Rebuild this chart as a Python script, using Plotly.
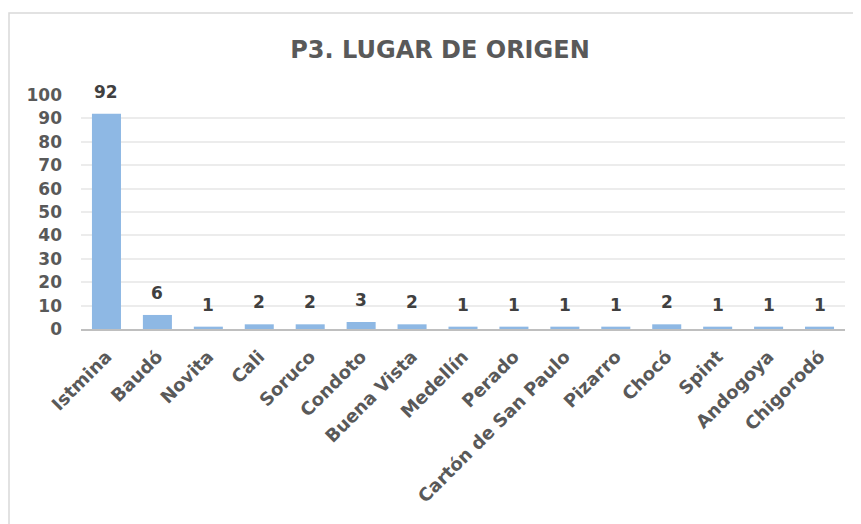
import plotly.graph_objects as go

lugares = ["Istmina", "Baudó", "Novita", "Cali", "Soruco", "Condoto", "Buena Vista",
           "Medellín", "Perado", "Cartón de San Paulo", "Pizarro", "Chocó", "Spint",
           "Andogoya", "Chigorodó"]
cantidad = [92, 6, 1, 2, 2, 3, 2, 1, 1, 1, 1, 2, 1, 1, 1]
y_ticks = [0, 10, 20, 30, 40, 50, 60, 70, 80, 90, 100]

W, H = 861, 524
OFF = 8  # page body margin
ml, mt = 81 - OFF, 95 - OFF
pw, ph = 845 - 81, 329 - 95
mr = W - ml - pw
mb = H - mt - ph

font_fam = "DejaVu Sans"

fig = go.Figure()
fig.add_trace(go.Bar(x=lugares, y=cantidad, marker=dict(color="#8eb8e4", line=dict(width=0)),
                     hoverinfo="x+y"))

# data labels above bars
for lug, val in zip(lugares, cantidad):
    fig.add_annotation(x=lug, y=val, text=str(val), showarrow=False,
                       yanchor="middle", yshift=22,
                       font=dict(family=font_fam, size=17, color="#404040", weight="bold"))

# chart frame (clipped at right/bottom like the reference)
fig.add_shape(type="rect", xref="paper", yref="paper",
              x0=(1 - ml) / pw, x1=(W + 20 - ml) / pw,
              y0=-(H + 20 - 329) / ph, y1=(329 - 13) / ph,
              line=dict(color="#d9d9d9", width=1.5), fillcolor="rgba(0,0,0,0)", layer="below")

fig.update_layout(
    width=W, height=H,
    margin=dict(l=ml, r=mr, t=mt, b=mb, pad=0),
    paper_bgcolor="white", plot_bgcolor="white",
    bargap=0.43,
    showlegend=False,
    title=dict(text="P3. LUGAR DE ORIGEN", x=(440 - OFF) / W, xref="container", xanchor="center",
               y=1 - (50 - OFF) / H, yref="container", yanchor="middle",
               font=dict(family=font_fam, size=24, color="#595959", weight="bold")),
    xaxis=dict(tickangle=-45, showgrid=False, showline=True, linecolor="#bfbfbf", linewidth=2,
               ticks="", ticklabelstandoff=8,
               tickfont=dict(family=font_fam, size=18, color="#595959", weight="bold")),
    yaxis=dict(range=[0, 100], tickvals=y_ticks, showgrid=True, gridcolor="#ececec", gridwidth=1.5,
               zeroline=False, showline=False, ticks="", ticklabelstandoff=18,
               tickfont=dict(family=font_fam, size=17, color="#595959", weight="bold")),
)

fig.write_html("out.html")
